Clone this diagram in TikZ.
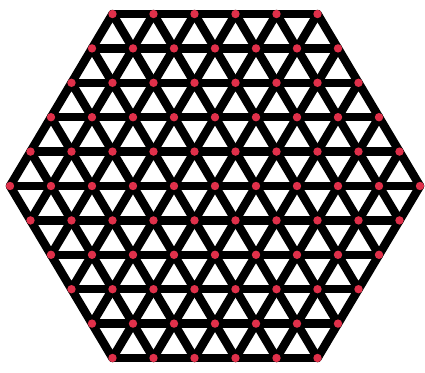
\documentclass[tikz,border=0pt]{standalone}
\usepackage{tikz}
\definecolor{sitered}{HTML}{E0304A}

\begin{document}
\begin{tikzpicture}[x=1pt,y=-1pt,
  bond/.style={draw=black,line width=8.5pt,line cap=round,line join=round},
  site/.style={fill=sitered}]
  \useasboundingbox (0,0) rectangle (425,372);
  % lattice sites, row by row
  \foreach \r in {0,...,10}{
    \pgfmathtruncatemacro\n{10-abs(\r-5)}
    \foreach \c in {0,...,\n}{
      \coordinate (v-\r-\c) at ({215+41*(\c-\n/2)},{14+34.4*\r});
    }
  }
  % horizontal bonds
  \foreach \r in {0,...,10}{
    \pgfmathtruncatemacro\m{9-abs(\r-5)}
    \foreach \c in {0,...,\m}{
      \pgfmathtruncatemacro\d{\c+1}
      \draw[bond] (v-\r-\c) -- (v-\r-\d);
    }
  }
  % slanted bonds, upper half
  \foreach \r in {0,...,4}{
    \pgfmathtruncatemacro\n{5+\r}
    \pgfmathtruncatemacro\s{\r+1}
    \foreach \c in {0,...,\n}{
      \pgfmathtruncatemacro\d{\c+1}
      \draw[bond] (v-\s-\c) -- (v-\r-\c) -- (v-\s-\d);
    }
  }
  % slanted bonds, lower half
  \foreach \r in {6,...,10}{
    \pgfmathtruncatemacro\n{15-\r}
    \pgfmathtruncatemacro\s{\r-1}
    \foreach \c in {0,...,\n}{
      \pgfmathtruncatemacro\d{\c+1}
      \draw[bond] (v-\s-\c) -- (v-\r-\c) -- (v-\s-\d);
    }
  }
  % red dots on the sites
  \foreach \r in {0,...,10}{
    \pgfmathtruncatemacro\n{10-abs(\r-5)}
    \foreach \c in {0,...,\n}{
      \fill[site] (v-\r-\c) circle (4.2);
    }
  }
\end{tikzpicture}
\end{document}
